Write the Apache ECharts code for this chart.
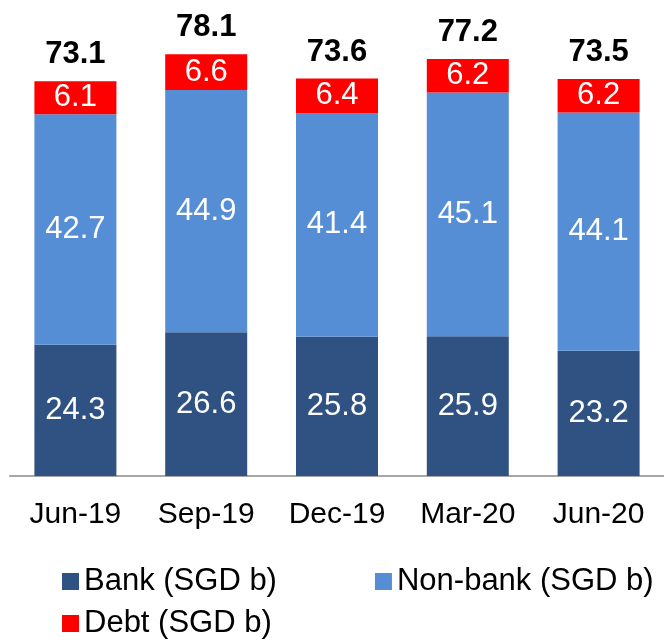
<!DOCTYPE html>
<html>
<head>
<meta charset="utf-8">
<script src="https://cdn.jsdelivr.net/npm/echarts@6/dist/echarts.min.js"></script>
<style>
  html, body { margin: 0; padding: 0; background: #fff; }
  #chart { width: 664px; height: 642px; }
</style>
</head>
<body>
<div id="chart"></div>
<script>
// 数据
const categories = ['Jun-19', 'Sep-19', 'Dec-19', 'Mar-20', 'Jun-20'];
const bank = [24.3, 26.6, 25.8, 25.9, 23.2];
const nonBank = [42.7, 44.9, 41.4, 45.1, 44.1];
const debt = [6.1, 6.6, 6.4, 6.2, 6.2];
const totals = [73.1, 78.1, 73.6, 77.2, 73.5];

const FONT = "'Liberation Sans', Arial, sans-serif";

const chart = echarts.init(document.getElementById('chart'));

// 段内白色标签
const innerLabel = {
    show: true,
    position: 'inside',
    color: '#fff',
    fontSize: 31,
    fontFamily: FONT
};

const legendText = { fontSize: 31, color: '#000', fontFamily: FONT };

const option = {
    animation: false,
    grid: { left: 10, right: 0, top: 44, bottom: 166 },
    legend: [
        {
            data: ['Bank (SGD b)', 'Non-bank (SGD b)'],
            left: 57,
            top: 561,
            itemWidth: 17,
            itemHeight: 17,
            itemGap: 98,
            icon: 'rect',
            textStyle: legendText
        },
        {
            data: ['Debt (SGD b)'],
            left: 57,
            top: 603,
            itemWidth: 17,
            itemHeight: 17,
            icon: 'rect',
            textStyle: legendText
        }
    ],
    xAxis: {
        type: 'category',
        data: categories,
        axisLine: { lineStyle: { color: '#A6A6A6', width: 2 } },
        axisTick: { show: false },
        axisLabel: { color: '#000', fontSize: 30, fontFamily: FONT, margin: 24 }
    },
    yAxis: {
        type: 'value',
        min: 0,
        max: 80,
        show: false,
        splitLine: { show: false }
    },
    series: [
        {
            name: 'Bank (SGD b)',
            type: 'bar',
            stack: 'total',
            barWidth: 82,
            data: bank,
            itemStyle: { color: '#2F5283' },
            label: innerLabel
        },
        {
            name: 'Non-bank (SGD b)',
            type: 'bar',
            stack: 'total',
            data: nonBank,
            itemStyle: { color: '#558ED5' },
            label: innerLabel
        },
        {
            name: 'Debt (SGD b)',
            type: 'bar',
            stack: 'total',
            data: debt,
            itemStyle: { color: '#FF0000' },
            label: innerLabel
        },
        {
            // 合计标签（零高度柱）
            name: 'Total',
            type: 'bar',
            stack: 'total',
            data: totals.map(() => 0),
            itemStyle: { color: 'transparent' },
            label: {
                show: true,
                position: 'top',
                distance: 11,
                color: '#000',
                fontSize: 31,
                fontWeight: 'bold',
                fontFamily: FONT,
                formatter: p => totals[p.dataIndex].toFixed(1)
            }
        }
    ]
};

chart.setOption(option);
</script>
</body>
</html>
